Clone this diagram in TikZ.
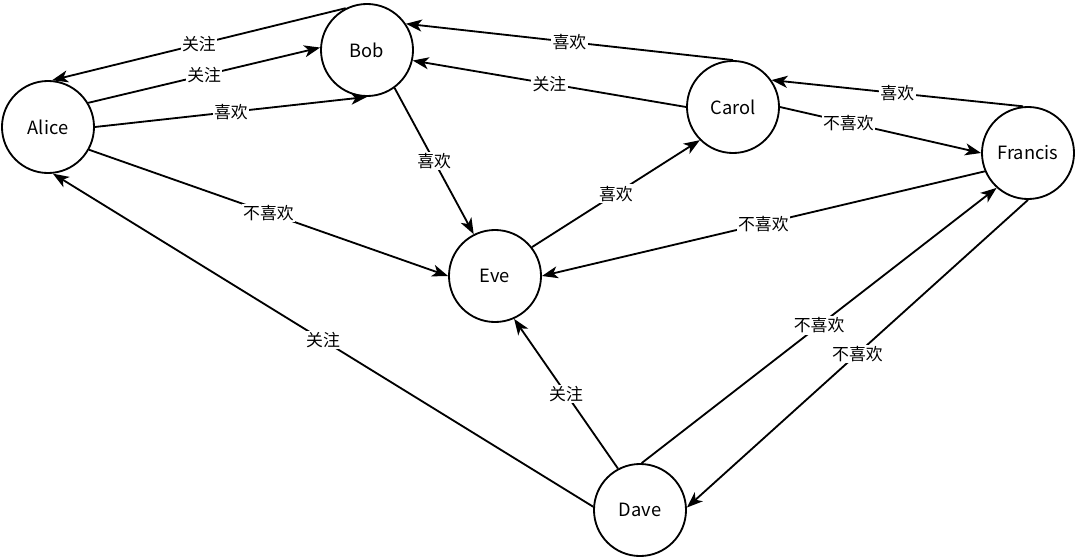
\documentclass[tikz,border=0pt]{standalone}
\usepackage{fontspec}
\setmainfont{Noto Sans CJK SC}
\usetikzlibrary{arrows.meta}

\tikzset{
  person/.style={circle, draw, line width=1.3pt, minimum size=2.3cm, inner sep=0pt,
    font=\fontsize{13}{15}\selectfont},
  rel/.style={line width=1.3pt, -{Stealth[length=0.4cm, width=0.3cm, inset=0.11cm]}},
  tag/.style={fill=white, inner sep=1pt, font=\fontsize{12}{14}\selectfont}
}

\begin{document}
\begin{tikzpicture}[x=0.025cm, y=-0.025cm]
				\useasboundingbox (0,0) rectangle (1080,559);
				\node[person] (alice)   at (48,127)  {Alice};
				\node[person] (bob)     at (367,50)  {Bob};
				\node[person] (carol)   at (733,107) {Carol};
				\node[person] (francis) at (1028,153) {Francis};
				\node[person] (eve)     at (495,276) {Eve};
				\node[person] (dave)    at (640,510) {Dave};

				\draw[rel] (bob.117)     -- node[tag, midway] {关注} (alice.85);
				\draw[rel] (alice.31)    -- node[tag, midway] {关注} (bob.177);
				\draw[rel] (alice.0)     -- node[tag, midway] {喜欢} (bob.-90);
				\draw[rel] (carol.90)    -- node[tag, midway] {喜欢} (bob.34);
				\draw[rel] (carol.180)   -- node[tag, midway] {关注} (bob.-13);
				\draw[rel] (bob.-54)     -- node[tag, midway] {喜欢} (eve.117);
				\draw[rel] (alice.-29)   -- node[tag, midway] {不喜欢} (eve.180);
				\draw[rel] (eve.38)      -- node[tag, midway] {喜欢} (carol.-135);
				\draw[rel] (francis.96)  -- node[tag, midway] {喜欢} (carol.35);
				\draw[rel] (carol.0)     -- node[tag, pos=0.34] {不喜欢} (francis.180);
				\draw[rel] (francis.-157) -- node[tag, midway] {不喜欢} (eve.0);
				\draw[rel] (dave.176)    -- node[tag, midway] {关注} (alice.-84);
				\draw[rel] (dave.118)    -- node[tag, midway] {关注} (eve.-66);
				\draw[rel] (dave.88)     -- node[tag, midway] {不喜欢} (francis.-132);
				\draw[rel] (francis.-90) -- node[tag, midway] {不喜欢} (dave.3);
			\end{tikzpicture}
\end{document}
